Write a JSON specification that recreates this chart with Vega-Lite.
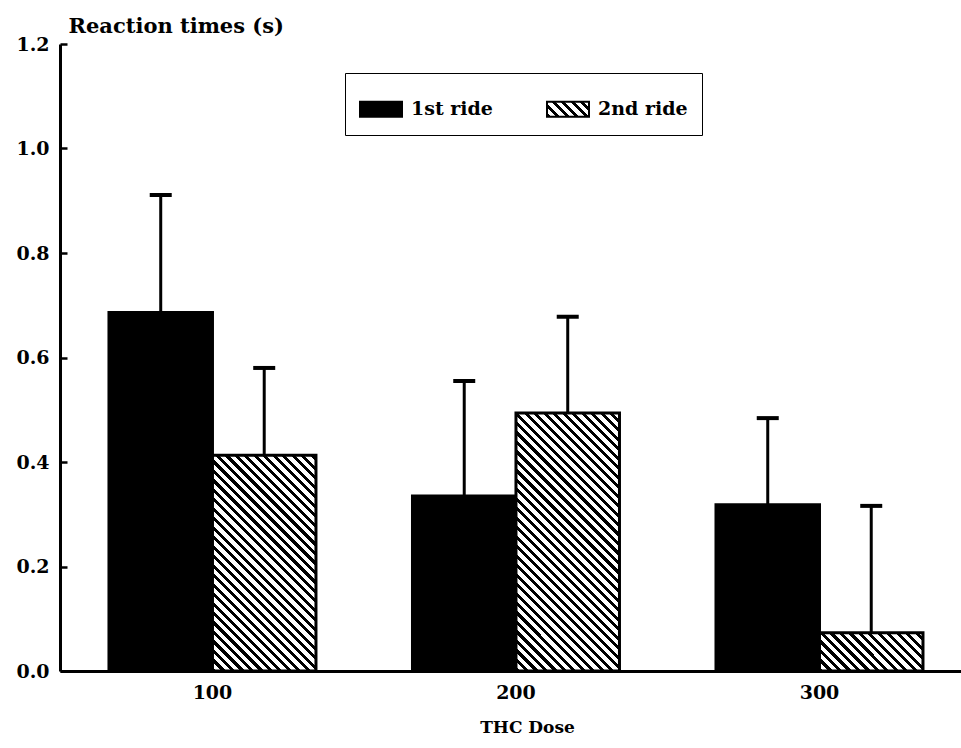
{
"$schema": "https://vega.github.io/schema/vega-lite/v6.json",
"width": 901, "height": 627,
"autosize": "none",
"padding": {"left": 60, "top": 44, "right": 0, "bottom": 77},
"background": "white",
"config": {
  "view": {"stroke": null},
  "font": "DejaVu Serif",
  "axis": {"grid": false, "domainColor": "black", "labelColor": "black", "titleColor": "black", "labelFont": "DejaVu Serif", "titleFont": "DejaVu Serif", "labelFontWeight": "bold", "titleFontWeight": "bold"}
},
"data": {"values": [
  {"dose": "100", "ride": "1st ride", "mean": 0.686, "upper": 0.911},
  {"dose": "100", "ride": "2nd ride", "mean": 0.413, "upper": 0.580},
  {"dose": "200", "ride": "1st ride", "mean": 0.335, "upper": 0.555},
  {"dose": "200", "ride": "2nd ride", "mean": 0.494, "upper": 0.678},
  {"dose": "300", "ride": "1st ride", "mean": 0.318, "upper": 0.484},
  {"dose": "300", "ride": "2nd ride", "mean": 0.073, "upper": 0.316}
]},
"encoding": {
  "x": {"field": "dose", "type": "nominal", "title": "THC Dose",
        "scale": {"paddingInner": 0.318, "paddingOuter": 0.1433, "align": 0.563},
        "axis": {"labelAngle": 0, "ticks": false, "domainWidth": 3, "labelPadding": 12, "labelFontSize": 19, "titleFontSize": 17, "titlePadding": 17, "titleX": 467}},
  "xOffset": {"field": "ride", "type": "nominal", "scale": {"paddingInner": 0, "paddingOuter": 0}}
},
"layer": [
  {"mark": {"type": "bar", "stroke": "black", "strokeWidth": 3},
   "encoding": {
     "y": {"field": "mean", "type": "quantitative", "stack": null, "title": "Reaction times (s)",
           "scale": {"domain": [0, 1.2], "nice": false, "zero": true},
           "axis": {"values": [0, 0.2, 0.4, 0.6, 0.8, 1.0, 1.2], "format": ".1f", "domainWidth": 3, "tickSize": -7, "tickWidth": 2.5, "tickColor": "black", "labelPadding": 18, "labelFontSize": 19, "titleAngle": 0, "titleAlign": "left", "titleBaseline": "alphabetic", "titleX": 8, "titleY": -12, "titleFontSize": 21}},
     "fill": {"field": "ride", "type": "nominal",
       "scale": {"range": ["black", {"expr": "{gradient: 'linear', x1: 0, y1: 1, x2: 8.003, y2: -1.858, stops: [{offset: 0, color: '#000'}, {offset: 0.011, color: '#000'}, {offset: 0.011, color: '#fff'}, {offset: 0.025, color: '#fff'}, {offset: 0.025, color: '#000'}, {offset: 0.036, color: '#000'}, {offset: 0.036, color: '#fff'}, {offset: 0.05, color: '#fff'}, {offset: 0.05, color: '#000'}, {offset: 0.061, color: '#000'}, {offset: 0.061, color: '#fff'}, {offset: 0.075, color: '#fff'}, {offset: 0.075, color: '#000'}, {offset: 0.086, color: '#000'}, {offset: 0.086, color: '#fff'}, {offset: 0.1, color: '#fff'}, {offset: 0.1, color: '#000'}, {offset: 0.111, color: '#000'}, {offset: 0.111, color: '#fff'}, {offset: 0.125, color: '#fff'}, {offset: 0.125, color: '#000'}, {offset: 0.136, color: '#000'}, {offset: 0.136, color: '#fff'}, {offset: 0.15, color: '#fff'}, {offset: 0.15, color: '#000'}, {offset: 0.161, color: '#000'}, {offset: 0.161, color: '#fff'}, {offset: 1, color: '#fff'}]}"}]},
       "legend": {"title": null, "orient": "none", "legendX": 285, "legendY": 29, "direction": "horizontal",
         "labelFont": "DejaVu Serif", "labelFontSize": 19, "labelFontWeight": "bold", "labelColor": "black",
         "symbolType": "M-1,-0.357H1V0.357H-1Z", "symbolSize": 1764, "symbolStrokeWidth": 2, "symbolStrokeColor": "black", "symbolOpacity": 1,
         "labelOffset": 8, "columnPadding": 50, "padding": 14, "strokeColor": "black", "fillColor": "white"},
       "condition": [
         {"test": "datum.dose === '100' && datum.ride === '2nd ride'", "value": {"gradient": "linear", "x1": 0, "y1": 1, "x2": 0.6849, "y2": -0.4279, "stops": [
           {"offset": 0, "color": "#000"}, {"offset": 0.011, "color": "#000"}, {"offset": 0.011, "color": "#fff"}, {"offset": 0.025, "color": "#fff"},
           {"offset": 0.025, "color": "#000"}, {"offset": 0.036, "color": "#000"}, {"offset": 0.036, "color": "#fff"}, {"offset": 0.05, "color": "#fff"},
           {"offset": 0.05, "color": "#000"}, {"offset": 0.061, "color": "#000"}, {"offset": 0.061, "color": "#fff"}, {"offset": 0.075, "color": "#fff"},
           {"offset": 0.075, "color": "#000"}, {"offset": 0.086, "color": "#000"}, {"offset": 0.086, "color": "#fff"}, {"offset": 0.1, "color": "#fff"},
           {"offset": 0.1, "color": "#000"}, {"offset": 0.111, "color": "#000"}, {"offset": 0.111, "color": "#fff"}, {"offset": 0.125, "color": "#fff"},
           {"offset": 0.125, "color": "#000"}, {"offset": 0.136, "color": "#000"}, {"offset": 0.136, "color": "#fff"}, {"offset": 0.15, "color": "#fff"},
           {"offset": 0.15, "color": "#000"}, {"offset": 0.161, "color": "#000"}, {"offset": 0.161, "color": "#fff"}, {"offset": 0.175, "color": "#fff"},
           {"offset": 0.175, "color": "#000"}, {"offset": 0.186, "color": "#000"}, {"offset": 0.186, "color": "#fff"}, {"offset": 0.2, "color": "#fff"},
           {"offset": 0.2, "color": "#000"}, {"offset": 0.211, "color": "#000"}, {"offset": 0.211, "color": "#fff"}, {"offset": 0.225, "color": "#fff"},
           {"offset": 0.225, "color": "#000"}, {"offset": 0.236, "color": "#000"}, {"offset": 0.236, "color": "#fff"}, {"offset": 0.25, "color": "#fff"},
           {"offset": 0.25, "color": "#000"}, {"offset": 0.261, "color": "#000"}, {"offset": 0.261, "color": "#fff"}, {"offset": 0.275, "color": "#fff"},
           {"offset": 0.275, "color": "#000"}, {"offset": 0.286, "color": "#000"}, {"offset": 0.286, "color": "#fff"}, {"offset": 0.3, "color": "#fff"},
           {"offset": 0.3, "color": "#000"}, {"offset": 0.311, "color": "#000"}, {"offset": 0.311, "color": "#fff"}, {"offset": 0.325, "color": "#fff"},
           {"offset": 0.325, "color": "#000"}, {"offset": 0.336, "color": "#000"}, {"offset": 0.336, "color": "#fff"}, {"offset": 0.35, "color": "#fff"},
           {"offset": 0.35, "color": "#000"}, {"offset": 0.361, "color": "#000"}, {"offset": 0.361, "color": "#fff"}, {"offset": 0.375, "color": "#fff"},
           {"offset": 0.375, "color": "#000"}, {"offset": 0.386, "color": "#000"}, {"offset": 0.386, "color": "#fff"}, {"offset": 0.4, "color": "#fff"},
           {"offset": 0.4, "color": "#000"}, {"offset": 0.411, "color": "#000"}, {"offset": 0.411, "color": "#fff"}, {"offset": 0.425, "color": "#fff"},
           {"offset": 0.425, "color": "#000"}, {"offset": 0.436, "color": "#000"}, {"offset": 0.436, "color": "#fff"}, {"offset": 0.45, "color": "#fff"},
           {"offset": 0.45, "color": "#000"}, {"offset": 0.461, "color": "#000"}, {"offset": 0.461, "color": "#fff"}, {"offset": 0.475, "color": "#fff"},
           {"offset": 0.475, "color": "#000"}, {"offset": 0.486, "color": "#000"}, {"offset": 0.486, "color": "#fff"}, {"offset": 0.5, "color": "#fff"},
           {"offset": 0.5, "color": "#000"}, {"offset": 0.511, "color": "#000"}, {"offset": 0.511, "color": "#fff"}, {"offset": 0.525, "color": "#fff"},
           {"offset": 0.525, "color": "#000"}, {"offset": 0.536, "color": "#000"}, {"offset": 0.536, "color": "#fff"}, {"offset": 0.55, "color": "#fff"},
           {"offset": 0.55, "color": "#000"}, {"offset": 0.561, "color": "#000"}, {"offset": 0.561, "color": "#fff"}, {"offset": 0.575, "color": "#fff"},
           {"offset": 0.575, "color": "#000"}, {"offset": 0.586, "color": "#000"}, {"offset": 0.586, "color": "#fff"}, {"offset": 0.6, "color": "#fff"},
           {"offset": 0.6, "color": "#000"}, {"offset": 0.611, "color": "#000"}, {"offset": 0.611, "color": "#fff"}, {"offset": 0.625, "color": "#fff"},
           {"offset": 0.625, "color": "#000"}, {"offset": 0.636, "color": "#000"}, {"offset": 0.636, "color": "#fff"}, {"offset": 0.65, "color": "#fff"},
           {"offset": 0.65, "color": "#000"}, {"offset": 0.661, "color": "#000"}, {"offset": 0.661, "color": "#fff"}, {"offset": 0.675, "color": "#fff"},
           {"offset": 0.675, "color": "#000"}, {"offset": 0.686, "color": "#000"}, {"offset": 0.686, "color": "#fff"}, {"offset": 0.7, "color": "#fff"},
           {"offset": 0.7, "color": "#000"}, {"offset": 0.711, "color": "#000"}, {"offset": 0.711, "color": "#fff"}, {"offset": 0.725, "color": "#fff"},
           {"offset": 0.725, "color": "#000"}, {"offset": 0.736, "color": "#000"}, {"offset": 0.736, "color": "#fff"}, {"offset": 0.75, "color": "#fff"},
           {"offset": 0.75, "color": "#000"}, {"offset": 0.761, "color": "#000"}, {"offset": 0.761, "color": "#fff"}, {"offset": 0.775, "color": "#fff"},
           {"offset": 0.775, "color": "#000"}, {"offset": 0.786, "color": "#000"}, {"offset": 0.786, "color": "#fff"}, {"offset": 0.8, "color": "#fff"},
           {"offset": 0.8, "color": "#000"}, {"offset": 0.811, "color": "#000"}, {"offset": 0.811, "color": "#fff"}, {"offset": 0.825, "color": "#fff"},
           {"offset": 0.825, "color": "#000"}, {"offset": 0.836, "color": "#000"}, {"offset": 0.836, "color": "#fff"}, {"offset": 1, "color": "#fff"}
         ]}},
         {"test": "datum.dose === '200' && datum.ride === '2nd ride'", "value": {"gradient": "linear", "x1": 0, "y1": 1, "x2": 0.5073, "y2": -0.265, "stops": [
           {"offset": 0, "color": "#000"}, {"offset": 0.011, "color": "#000"}, {"offset": 0.011, "color": "#fff"}, {"offset": 0.025, "color": "#fff"},
           {"offset": 0.025, "color": "#000"}, {"offset": 0.036, "color": "#000"}, {"offset": 0.036, "color": "#fff"}, {"offset": 0.05, "color": "#fff"},
           {"offset": 0.05, "color": "#000"}, {"offset": 0.061, "color": "#000"}, {"offset": 0.061, "color": "#fff"}, {"offset": 0.075, "color": "#fff"},
           {"offset": 0.075, "color": "#000"}, {"offset": 0.086, "color": "#000"}, {"offset": 0.086, "color": "#fff"}, {"offset": 0.1, "color": "#fff"},
           {"offset": 0.1, "color": "#000"}, {"offset": 0.111, "color": "#000"}, {"offset": 0.111, "color": "#fff"}, {"offset": 0.125, "color": "#fff"},
           {"offset": 0.125, "color": "#000"}, {"offset": 0.136, "color": "#000"}, {"offset": 0.136, "color": "#fff"}, {"offset": 0.15, "color": "#fff"},
           {"offset": 0.15, "color": "#000"}, {"offset": 0.161, "color": "#000"}, {"offset": 0.161, "color": "#fff"}, {"offset": 0.175, "color": "#fff"},
           {"offset": 0.175, "color": "#000"}, {"offset": 0.186, "color": "#000"}, {"offset": 0.186, "color": "#fff"}, {"offset": 0.2, "color": "#fff"},
           {"offset": 0.2, "color": "#000"}, {"offset": 0.211, "color": "#000"}, {"offset": 0.211, "color": "#fff"}, {"offset": 0.225, "color": "#fff"},
           {"offset": 0.225, "color": "#000"}, {"offset": 0.236, "color": "#000"}, {"offset": 0.236, "color": "#fff"}, {"offset": 0.25, "color": "#fff"},
           {"offset": 0.25, "color": "#000"}, {"offset": 0.261, "color": "#000"}, {"offset": 0.261, "color": "#fff"}, {"offset": 0.275, "color": "#fff"},
           {"offset": 0.275, "color": "#000"}, {"offset": 0.286, "color": "#000"}, {"offset": 0.286, "color": "#fff"}, {"offset": 0.3, "color": "#fff"},
           {"offset": 0.3, "color": "#000"}, {"offset": 0.311, "color": "#000"}, {"offset": 0.311, "color": "#fff"}, {"offset": 0.325, "color": "#fff"},
           {"offset": 0.325, "color": "#000"}, {"offset": 0.336, "color": "#000"}, {"offset": 0.336, "color": "#fff"}, {"offset": 0.35, "color": "#fff"},
           {"offset": 0.35, "color": "#000"}, {"offset": 0.361, "color": "#000"}, {"offset": 0.361, "color": "#fff"}, {"offset": 0.375, "color": "#fff"},
           {"offset": 0.375, "color": "#000"}, {"offset": 0.386, "color": "#000"}, {"offset": 0.386, "color": "#fff"}, {"offset": 0.4, "color": "#fff"},
           {"offset": 0.4, "color": "#000"}, {"offset": 0.411, "color": "#000"}, {"offset": 0.411, "color": "#fff"}, {"offset": 0.425, "color": "#fff"},
           {"offset": 0.425, "color": "#000"}, {"offset": 0.436, "color": "#000"}, {"offset": 0.436, "color": "#fff"}, {"offset": 0.45, "color": "#fff"},
           {"offset": 0.45, "color": "#000"}, {"offset": 0.461, "color": "#000"}, {"offset": 0.461, "color": "#fff"}, {"offset": 0.475, "color": "#fff"},
           {"offset": 0.475, "color": "#000"}, {"offset": 0.486, "color": "#000"}, {"offset": 0.486, "color": "#fff"}, {"offset": 0.5, "color": "#fff"},
           {"offset": 0.5, "color": "#000"}, {"offset": 0.511, "color": "#000"}, {"offset": 0.511, "color": "#fff"}, {"offset": 0.525, "color": "#fff"},
           {"offset": 0.525, "color": "#000"}, {"offset": 0.536, "color": "#000"}, {"offset": 0.536, "color": "#fff"}, {"offset": 0.55, "color": "#fff"},
           {"offset": 0.55, "color": "#000"}, {"offset": 0.561, "color": "#000"}, {"offset": 0.561, "color": "#fff"}, {"offset": 0.575, "color": "#fff"},
           {"offset": 0.575, "color": "#000"}, {"offset": 0.586, "color": "#000"}, {"offset": 0.586, "color": "#fff"}, {"offset": 0.6, "color": "#fff"},
           {"offset": 0.6, "color": "#000"}, {"offset": 0.611, "color": "#000"}, {"offset": 0.611, "color": "#fff"}, {"offset": 0.625, "color": "#fff"},
           {"offset": 0.625, "color": "#000"}, {"offset": 0.636, "color": "#000"}, {"offset": 0.636, "color": "#fff"}, {"offset": 0.65, "color": "#fff"},
           {"offset": 0.65, "color": "#000"}, {"offset": 0.661, "color": "#000"}, {"offset": 0.661, "color": "#fff"}, {"offset": 0.675, "color": "#fff"},
           {"offset": 0.675, "color": "#000"}, {"offset": 0.686, "color": "#000"}, {"offset": 0.686, "color": "#fff"}, {"offset": 0.7, "color": "#fff"},
           {"offset": 0.7, "color": "#000"}, {"offset": 0.711, "color": "#000"}, {"offset": 0.711, "color": "#fff"}, {"offset": 0.725, "color": "#fff"},
           {"offset": 0.725, "color": "#000"}, {"offset": 0.736, "color": "#000"}, {"offset": 0.736, "color": "#fff"}, {"offset": 0.75, "color": "#fff"},
           {"offset": 0.75, "color": "#000"}, {"offset": 0.761, "color": "#000"}, {"offset": 0.761, "color": "#fff"}, {"offset": 0.775, "color": "#fff"},
           {"offset": 0.775, "color": "#000"}, {"offset": 0.786, "color": "#000"}, {"offset": 0.786, "color": "#fff"}, {"offset": 0.8, "color": "#fff"},
           {"offset": 0.8, "color": "#000"}, {"offset": 0.811, "color": "#000"}, {"offset": 0.811, "color": "#fff"}, {"offset": 0.825, "color": "#fff"},
           {"offset": 0.825, "color": "#000"}, {"offset": 0.836, "color": "#000"}, {"offset": 0.836, "color": "#fff"}, {"offset": 0.85, "color": "#fff"},
           {"offset": 0.85, "color": "#000"}, {"offset": 0.861, "color": "#000"}, {"offset": 0.861, "color": "#fff"}, {"offset": 0.875, "color": "#fff"},
           {"offset": 0.875, "color": "#000"}, {"offset": 0.886, "color": "#000"}, {"offset": 0.886, "color": "#fff"}, {"offset": 0.9, "color": "#fff"},
           {"offset": 0.9, "color": "#000"}, {"offset": 0.911, "color": "#000"}, {"offset": 0.911, "color": "#fff"}, {"offset": 0.925, "color": "#fff"},
           {"offset": 0.925, "color": "#000"}, {"offset": 0.936, "color": "#000"}, {"offset": 0.936, "color": "#fff"}, {"offset": 0.95, "color": "#fff"},
           {"offset": 0.95, "color": "#000"}, {"offset": 0.961, "color": "#000"}, {"offset": 0.961, "color": "#fff"}, {"offset": 1, "color": "#fff"}
         ]}},
         {"test": "datum.dose === '300' && datum.ride === '2nd ride'", "value": {"gradient": "linear", "x1": 0, "y1": 1, "x2": 3.2248, "y2": -0.1871, "stops": [
           {"offset": 0, "color": "#000"}, {"offset": 0.011, "color": "#000"}, {"offset": 0.011, "color": "#fff"}, {"offset": 0.025, "color": "#fff"},
           {"offset": 0.025, "color": "#000"}, {"offset": 0.036, "color": "#000"}, {"offset": 0.036, "color": "#fff"}, {"offset": 0.05, "color": "#fff"},
           {"offset": 0.05, "color": "#000"}, {"offset": 0.061, "color": "#000"}, {"offset": 0.061, "color": "#fff"}, {"offset": 0.075, "color": "#fff"},
           {"offset": 0.075, "color": "#000"}, {"offset": 0.086, "color": "#000"}, {"offset": 0.086, "color": "#fff"}, {"offset": 0.1, "color": "#fff"},
           {"offset": 0.1, "color": "#000"}, {"offset": 0.111, "color": "#000"}, {"offset": 0.111, "color": "#fff"}, {"offset": 0.125, "color": "#fff"},
           {"offset": 0.125, "color": "#000"}, {"offset": 0.136, "color": "#000"}, {"offset": 0.136, "color": "#fff"}, {"offset": 0.15, "color": "#fff"},
           {"offset": 0.15, "color": "#000"}, {"offset": 0.161, "color": "#000"}, {"offset": 0.161, "color": "#fff"}, {"offset": 0.175, "color": "#fff"},
           {"offset": 0.175, "color": "#000"}, {"offset": 0.186, "color": "#000"}, {"offset": 0.186, "color": "#fff"}, {"offset": 0.2, "color": "#fff"},
           {"offset": 0.2, "color": "#000"}, {"offset": 0.211, "color": "#000"}, {"offset": 0.211, "color": "#fff"}, {"offset": 0.225, "color": "#fff"},
           {"offset": 0.225, "color": "#000"}, {"offset": 0.236, "color": "#000"}, {"offset": 0.236, "color": "#fff"}, {"offset": 0.25, "color": "#fff"},
           {"offset": 0.25, "color": "#000"}, {"offset": 0.261, "color": "#000"}, {"offset": 0.261, "color": "#fff"}, {"offset": 0.275, "color": "#fff"},
           {"offset": 0.275, "color": "#000"}, {"offset": 0.286, "color": "#000"}, {"offset": 0.286, "color": "#fff"}, {"offset": 0.3, "color": "#fff"},
           {"offset": 0.3, "color": "#000"}, {"offset": 0.311, "color": "#000"}, {"offset": 0.311, "color": "#fff"}, {"offset": 0.325, "color": "#fff"},
           {"offset": 0.325, "color": "#000"}, {"offset": 0.336, "color": "#000"}, {"offset": 0.336, "color": "#fff"}, {"offset": 0.35, "color": "#fff"},
           {"offset": 0.35, "color": "#000"}, {"offset": 0.361, "color": "#000"}, {"offset": 0.361, "color": "#fff"}, {"offset": 0.375, "color": "#fff"},
           {"offset": 0.375, "color": "#000"}, {"offset": 0.386, "color": "#000"}, {"offset": 0.386, "color": "#fff"}, {"offset": 1, "color": "#fff"}
         ]}}
       ]}
   }},
  {"mark": {"type": "rule", "strokeWidth": 3, "color": "black"},
   "encoding": {"y": {"field": "mean", "type": "quantitative"}, "y2": {"field": "upper"}}},
  {"mark": {"type": "tick", "size": 22, "thickness": 4, "color": "black", "opacity": 1},
   "encoding": {"y": {"field": "upper", "type": "quantitative"}}}
]
}
